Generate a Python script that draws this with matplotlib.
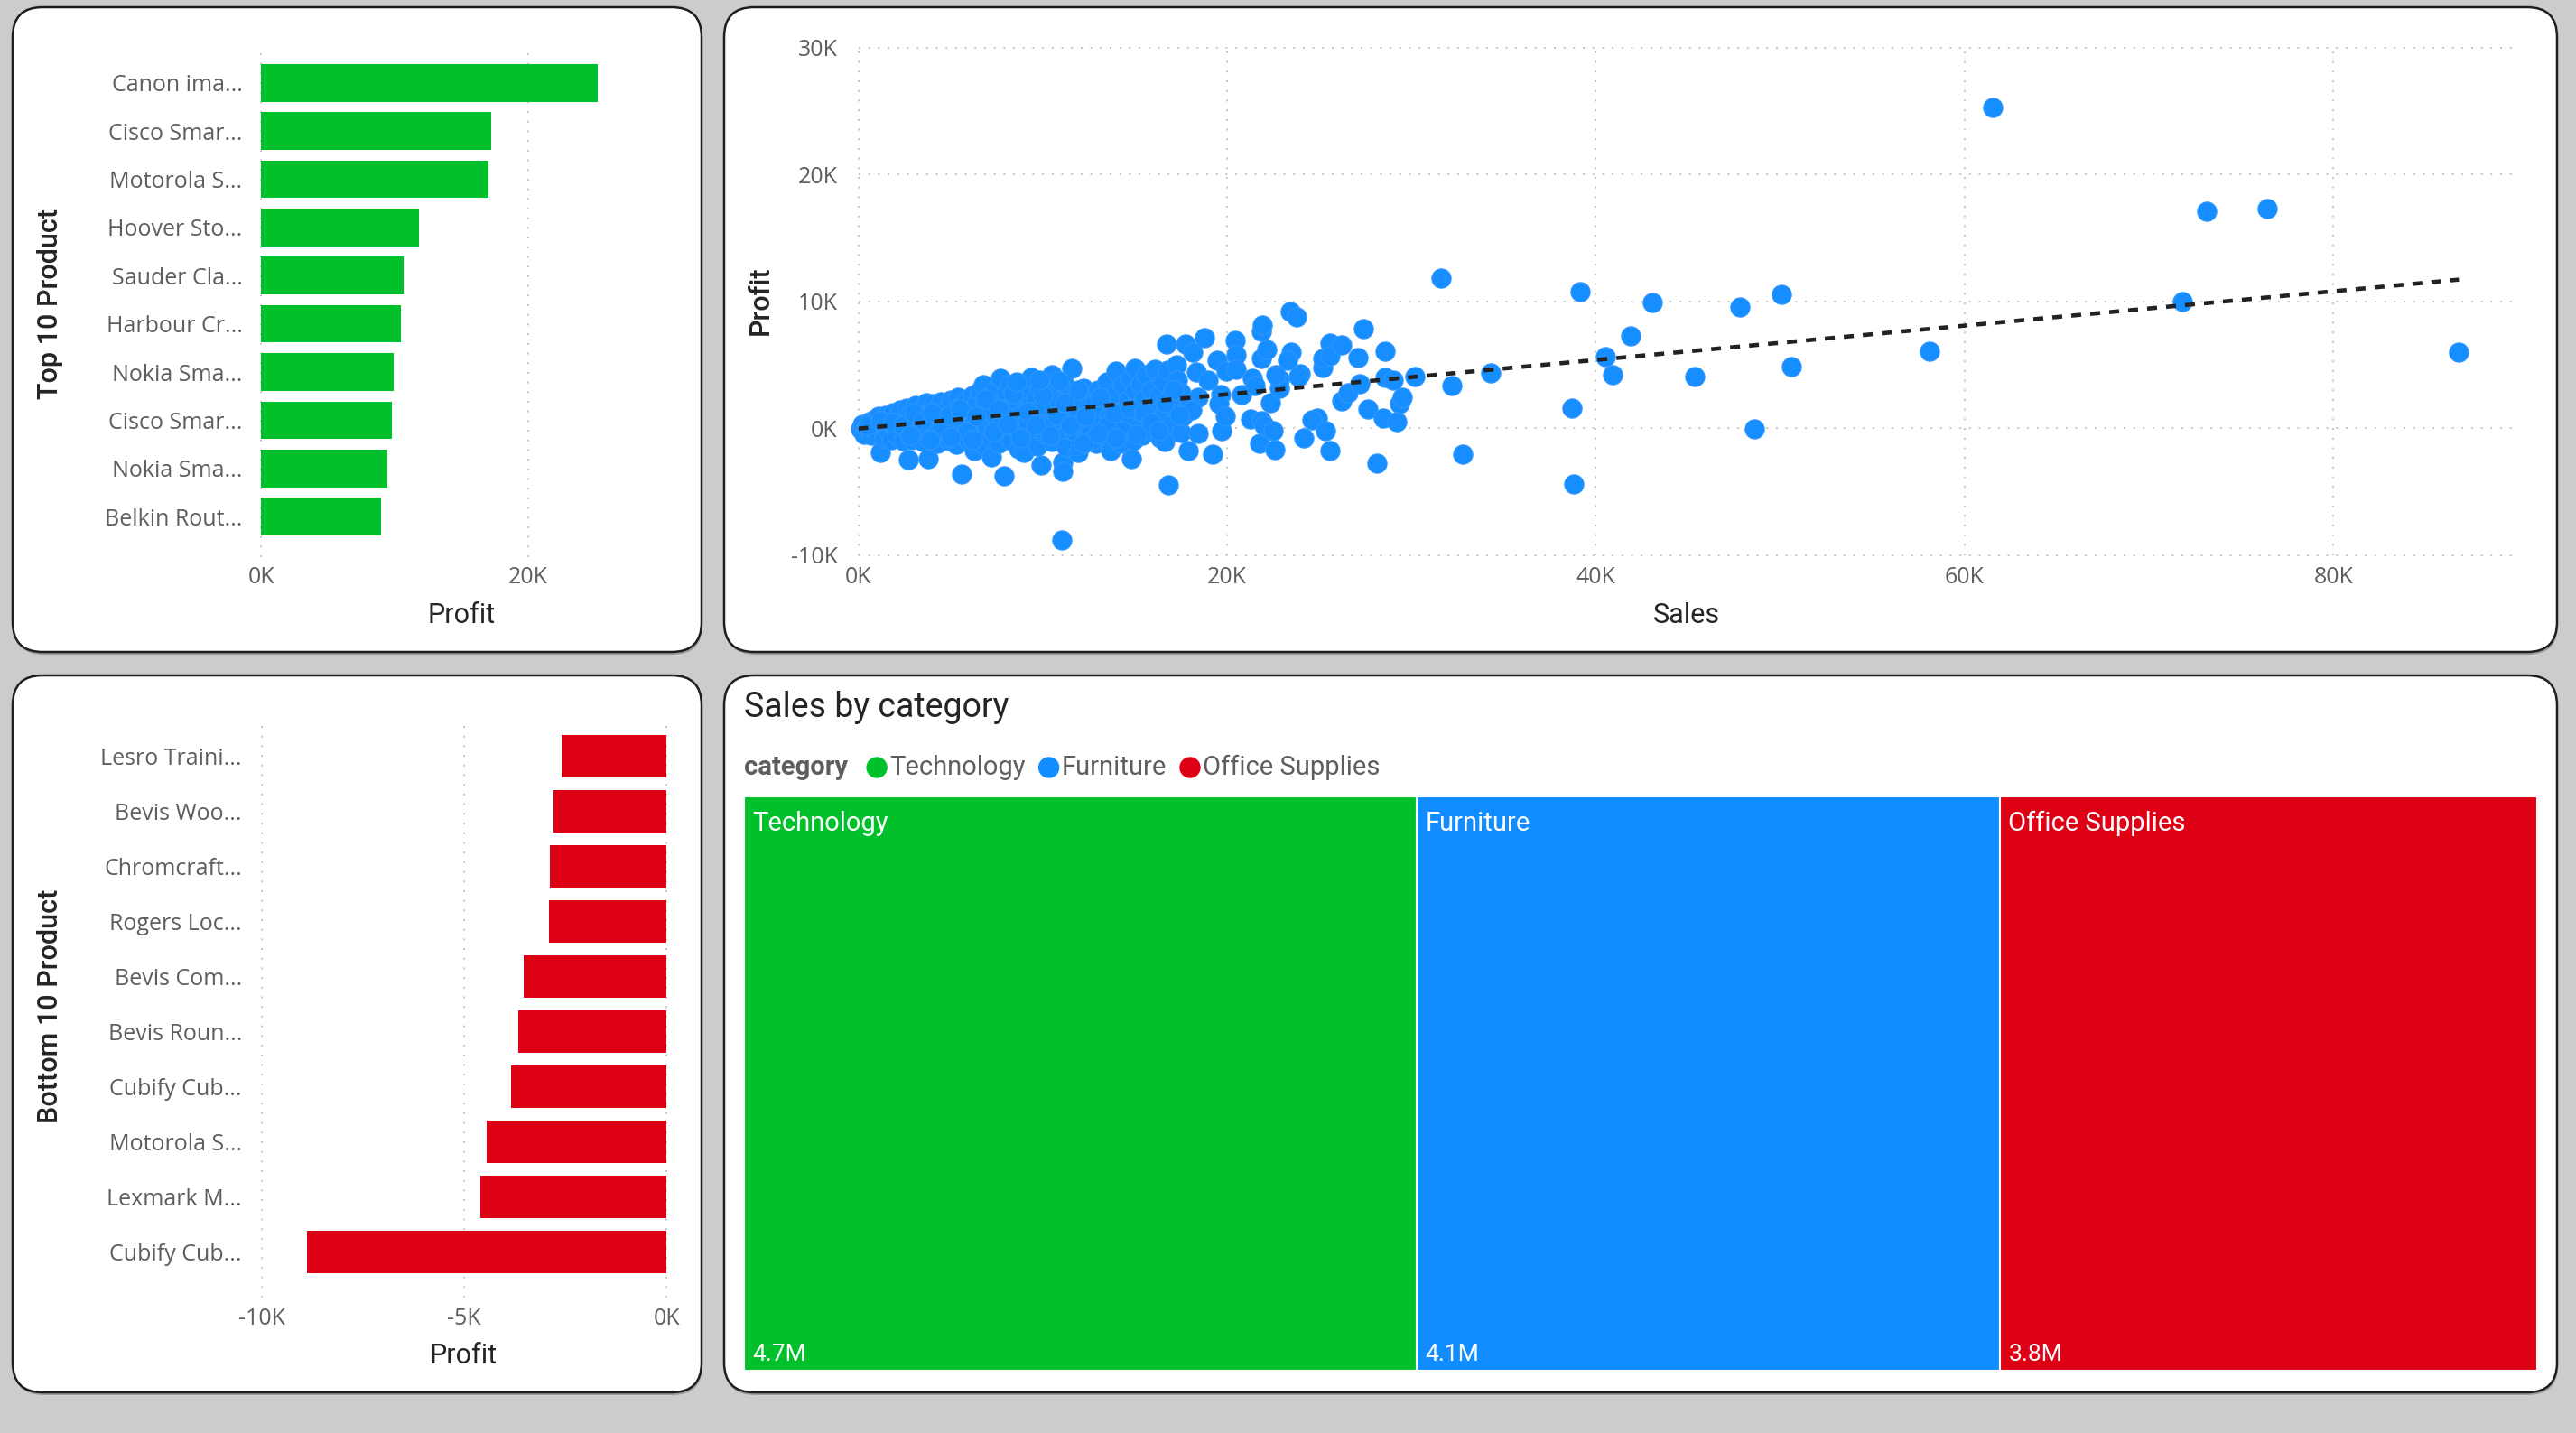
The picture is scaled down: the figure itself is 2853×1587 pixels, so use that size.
import numpy as np
import matplotlib.pyplot as plt
from matplotlib.patches import FancyBboxPatch, Circle

W, H = 2853, 1587

# ---- data (profit and sales in thousands unless noted) ----
top_products = ["Canon ima...", "Cisco Smar...", "Motorola S...", "Hoover Sto...", "Sauder Cla...",
                "Harbour Cr...", "Nokia Sma...", "Cisco Smar...", "Nokia Sma...", "Belkin Rout..."]
top_profit_k = [25.20, 17.24, 17.03, 11.81, 10.67, 10.43, 9.94, 9.79, 9.47, 8.96]

bottom_products = ["Lesro Traini...", "Bevis Woo...", "Chromcraft...", "Rogers Loc...", "Bevis Com...",
                   "Bevis Roun...", "Cubify Cub...", "Motorola S...", "Lexmark M...", "Cubify Cub..."]
bottom_profit_k = [-2.59, -2.80, -2.89, -2.91, -3.53, -3.66, -3.84, -4.45, -4.59, -8.88]

# (sales K, profit K) per product
scatter_points = [
    (0.1, -0.1), (0.2, 0.3), (0.3, -0.5), (0.4, 0.1), (0.6, 0.5), (0.7, -0.6), (0.8, 0.0), (0.9, 0.7),
    (1.0, -0.4), (1.1, 0.9), (1.2, -1.9), (1.3, 0.3), (1.4, -0.8), (1.5, 1.0), (1.6, -0.2), (1.7, 0.5),
    (1.8, -0.9), (1.9, 1.2), (2.0, 0.2), (2.1, -0.6), (2.2, 0.9), (2.3, 1.4), (2.4, -1.0), (2.5, 0.5),
    (2.6, 1.6), (2.7, -2.5), (2.7, -0.3), (2.8, 1.1), (2.9, -0.9), (3.0, 0.3), (3.1, 1.8), (3.2, -0.5),
    (3.3, 0.9), (3.4, 1.5), (3.5, -1.1), (3.6, 0.1), (3.7, 2.0), (3.8, -2.4), (3.8, 0.7), (3.9, 1.3),
    (4.0, -0.7), (4.1, 1.9), (4.2, 0.3), (4.3, -1.2), (4.4, 1.0), (4.5, 2.1), (4.6, -0.4), (4.7, 0.6),
    (4.8, 1.6), (4.9, -1.0), (5.0, 2.2), (5.1, 0.0), (5.2, 1.2), (5.3, -1.3), (5.4, 2.4), (5.5, 0.7),
    (5.6, -3.6), (5.6, 1.7), (5.7, -0.6), (5.8, 2.1), (5.9, 0.2), (6.0, -1.1), (6.1, 1.3), (6.2, 2.6),
    (6.3, -1.8), (6.3, 0.5), (6.4, 1.9), (6.5, -0.7), (6.6, 2.9), (6.7, 0.9), (6.8, 3.4), (6.8, -1.3),
    (6.9, 1.6), (7.0, 0.0), (7.1, 2.5), (7.2, -2.3), (7.2, -0.8), (7.3, 1.2), (7.4, 3.0), (7.5, 0.4),
    (7.6, -1.2), (7.7, 3.9), (7.7, 2.0), (7.8, 0.8), (7.9, -3.8), (7.9, -0.5), (8.0, 2.8), (8.1, 1.5),
    (8.2, 3.4), (8.3, -1.0), (8.4, 0.2), (8.5, 2.2), (8.6, 3.0), (8.7, -1.6), (8.8, 1.0), (8.9, -0.3),
    (9.0, 2.6), (9.0, -1.9), (9.1, 3.4), (9.2, 0.6), (9.3, 1.7), (9.4, 4.0), (9.5, -0.8), (9.6, 2.4),
    (9.7, -1.4), (9.8, 3.1), (9.9, -2.9), (9.9, 0.9), (10.0, 1.8), (10.1, -0.4), (10.2, 3.6), (10.3, 2.6),
    (10.4, 0.3), (10.5, 4.2), (10.5, -1.1), (10.6, 1.4), (10.7, 3.0), (10.8, -0.6), (10.9, 2.1), (11.0, 0.7),
    (11.05, -8.8), (11.1, -2.7), (11.1, -3.4), (11.2, 3.4), (11.3, -1.5), (11.4, 1.6), (11.5, 2.7), (11.6, 4.7),
    (11.7, -0.2), (11.8, 1.0), (11.9, -1.9), (12.0, 2.2), (12.1, 0.3), (12.2, 3.1), (12.3, -0.9), (12.4, 1.5),
    (12.5, 2.6), (12.6, -0.3), (12.7, 0.9), (12.8, 2.0), (12.9, -1.2), (13.0, 3.0), (13.1, 0.4), (13.2, 1.6),
    (13.3, -0.6), (13.4, 2.4), (13.5, 3.6), (13.6, 0.9), (13.7, -1.8), (13.8, 1.9), (13.9, -0.2), (14.0, 4.5),
    (14.0, 2.8), (14.1, 0.6), (14.2, -1.2), (14.3, 3.4), (14.4, 1.4), (14.5, -0.4), (14.6, 2.2), (14.7, 3.9),
    (14.8, -2.4), (14.8, 0.8), (14.9, -1.0), (15.0, 4.7), (15.0, 2.9), (15.1, 1.6), (15.2, 0.0), (15.3, 3.5),
    (15.4, -0.6), (15.5, 2.3), (15.6, 4.2), (15.7, 1.0), (15.8, -0.2), (15.9, 3.0), (16.0, 1.8), (16.1, 4.6),
    (16.2, 0.4), (16.3, 2.6), (16.4, -0.8), (16.5, 3.6), (16.6, 1.3), (16.62, -1.06), (16.7, 6.6), (16.8, -4.5),
    (16.78, 4.53), (16.9, 2.5), (17.0, 0.3), (17.2, 1.6), (17.27, 5.0), (17.3, 3.8), (17.5, -0.35), (17.5, 2.8),
    (17.6, 0.9), (17.75, 6.6), (17.9, -1.8), (18.0, 1.9), (18.12, 5.96), (18.33, 4.41), (18.41, 2.39), (18.09, 1.44),
    (18.45, -0.46), (18.77, 7.1), (18.98, 3.77), (19.2, -2.08), (19.47, 5.31), (19.64, 2.63), (19.56, 1.91),
    (19.72, -0.23), (19.88, 0.96), (19.96, 4.48), (20.45, 6.9), (20.5, 5.76), (20.49, 4.65), (20.78, 2.63),
    (21.27, 0.72), (21.35, 3.93), (21.5, 3.34), (21.84, 0.6), (21.76, -1.18), (22.0, 0.25), (22.5, -0.23),
    (22.58, -1.73), (22.33, 2.03), (21.84, 5.48), (22.17, 6.19), (21.84, 7.62), (21.9, 8.14), (23.44, 9.16),
    (23.77, 8.76), (23.47, 5.96), (23.3, 5.36), (23.96, 4.29), (23.88, 4.05), (22.82, 3.82), (22.82, 3.1),
    (22.66, 4.17), (24.16, -0.75), (24.9, 0.77), (24.6, 0.65), (25.35, -0.18), (25.6, -1.75), (25.19, 4.77),
    (25.2, 5.48), (25.56, 6.67), (25.6, 5.72), (26.2, 6.55), (26.2, 2.15), (26.54, 2.75), (27.2, 3.46),
    (27.1, 5.55), (27.4, 7.86), (27.65, 1.51), (28.14, -2.75), (28.47, 0.8), (28.58, 6.07), (28.58, 4.0),
    (29.0, 3.77), (29.2, 0.49), (29.35, 1.9), (29.5, 2.39), (30.16, 4.05), (31.6, 11.85), (32.2, 3.34),
    (32.8, -2.08), (34.3, 4.34), (38.7, 1.55), (38.8, -4.4), (39.14, 10.76), (40.53, 5.65), (40.93, 4.17),
    (41.87, 7.26), (43.06, 9.88), (45.34, 4.05), (47.8, 9.54), (48.6, -0.1), (50.04, 10.52), (50.6, 4.81),
    (58.1, 6.07), (61.5, 25.3), (71.8, 10.0), (73.1, 17.1), (76.4, 17.3), (86.8, 6.0),
    # more of the packed band below 17K
    (0.5, 0.2), (1.2, 0.6), (1.9, 0.4), (2.4, 0.2), (3.0, 1.2), (3.5, 0.6), (4.0, 1.2), (4.5, 0.0),
    (4.9, 1.0), (5.5, 1.5), (5.9, -0.3), (6.4, 0.9), (6.9, 2.3), (7.3, -0.3), (7.6, 1.5), (8.1, 0.3),
    (8.4, 2.7), (8.8, -0.8), (9.2, 1.3), (9.6, 0.2), (10.0, 2.6), (10.4, -0.6), (10.8, 1.0), (11.2, 2.0),
    (11.5, 0.2), (11.9, 3.0), (12.3, 0.9), (12.7, -0.9), (13.1, 2.4), (13.5, 0.2), (13.9, 1.2), (14.3, -0.2),
    (14.7, 1.6), (15.1, -0.5), (15.5, 1.2), (15.9, 0.4), (16.3, -0.2), (16.6, 2.0), (17.1, 3.0), (17.4, 1.0),
    (8.6, 3.6), (9.8, 3.8), (10.9, 3.7), (6.2, -0.9), (5.0, -0.7), (3.9, -0.9), (2.8, -0.6), (12.2, -1.2),
    (13.0, -0.4), (14.0, -0.8),
]
trend_intercept_k = -0.05
trend_slope = 0.1354

categories = ["Technology", "Furniture", "Office Supplies"]
category_sales = [4744557, 4110874, 3787070]

GREEN, BLUE, RED = "#00C12B", "#118DFF", "#DE0014"
TICK_C, TITLE_C, GRID_C = "#605E5C", "#252423", "#C8C6C4"

plt.rcParams["font.family"] = ["Open Sans", "DejaVu Sans"]
TITLE_FONT = ["Roboto", "DejaVu Sans"]

fig = plt.figure(figsize=(W / 100, H / 100), dpi=100)
fig.patch.set_facecolor("#CCCCCC")

# background axes in pixel coordinates for the cards
bg = fig.add_axes([0, 0, 1, 1], zorder=0)
bg.set_xlim(0, W)
bg.set_ylim(H, 0)
bg.axis("off")

cards = [(14, 8, 777, 722), (802, 8, 2832, 722), (14, 748, 777, 1542), (802, 748, 2832, 1542)]
for x0, y0, x1, y1 in cards:
    bg.add_patch(FancyBboxPatch((x0 + 1, y0 + 3), x1 - x0, y1 - y0, boxstyle="round,pad=0,rounding_size=33",
                                fc="#9A9A9A", ec="none"))
    bg.add_patch(FancyBboxPatch((x0, y0), x1 - x0, y1 - y0, boxstyle="round,pad=0,rounding_size=33",
                                fc="white", ec="#1E1E1E", lw=1.8))


def px_axes(x0, y0, x1, y1):
    ax = fig.add_axes([x0 / W, 1 - y1 / H, (x1 - x0) / W, (y1 - y0) / H], zorder=2)
    ax.patch.set_alpha(0)
    for s in ax.spines.values():
        s.set_visible(False)
    ax.tick_params(length=0, labelsize=18, labelcolor=TICK_C)
    return ax


def dotted_grid(ax, axis):
    ax.grid(axis=axis, color=GRID_C, lw=1.4, linestyle=(0, (1, 4.5)))
    ax.set_axisbelow(True)
    for ln in ax.get_xgridlines() + ax.get_ygridlines():
        ln.set_clip_on(False)


def k_fmt(v):
    return f"{v:.0f}K"


# ---- top 10 ----
ax1 = px_axes(289.3, 55, 733.2, 617)
y = np.arange(len(top_products))
ax1.barh(y, top_profit_k, height=0.78, color=GREEN)
ax1.set_xlim(0, 30)
ax1.set_ylim(9.84, -0.69)
ax1.set_yticks(y, top_products)
ax1.set_xticks([0, 20], [k_fmt(v) for v in [0, 20]])
ax1.tick_params(axis="y", pad=15)
ax1.tick_params(axis="x", pad=7)
dotted_grid(ax1, "x")
bg.text(511, 681, "Profit", ha="center", va="center", fontsize=22, color=TITLE_C, family=TITLE_FONT)
bg.text(56, 336, "Top 10 Product", ha="center", va="center", rotation=90, fontsize=22,
        color=TITLE_C, family=TITLE_FONT, weight="medium")

# ---- bottom 10 ----
ax3 = px_axes(285.3, 796.7, 742.8, 1437)
y = np.arange(len(bottom_products))
ax3.barh(y, bottom_profit_k, height=0.78, color=RED)
ax3.set_xlim(-10.1, 0.1)
ax3.set_ylim(9.83, -0.67)
ax3.set_yticks(y, bottom_products)
ax3.set_xticks([-10, -5, 0], [k_fmt(v) for v in [-10, -5, 0]])
ax3.tick_params(axis="y", pad=12.5)
ax3.tick_params(axis="x", pad=8)
dotted_grid(ax3, "x")
bg.text(513, 1502, "Profit", ha="center", va="center", fontsize=22, color=TITLE_C, family=TITLE_FONT)
bg.text(56, 1114, "Bottom 10 Product", ha="center", va="center", rotation=90, fontsize=22,
        color=TITLE_C, family=TITLE_FONT, weight="medium")

# ---- scatter ----
ax2 = px_axes(950.5, 52.6, 2784, 614.5)
sales = np.array([p[0] for p in scatter_points])
profit = np.array([p[1] for p in scatter_points])
ax2.scatter(sales, profit, s=235, color="#168EFF", edgecolors="#3097FF", linewidths=0.8, zorder=3, clip_on=False)
xs = np.array([0, sales.max()])
ax2.plot(xs, trend_intercept_k + trend_slope * xs, color="#222222", lw=3.3, linestyle=(0, (2.4, 2.2)), zorder=4)
ax2.set_xlim(0, 89.77)
ax2.set_ylim(-10, 30)
ax2.set_xticks([0, 20, 40, 60, 80], [k_fmt(v) for v in [0, 20, 40, 60, 80]])
ax2.set_yticks([-10, 0, 10, 20, 30], [k_fmt(v) for v in [-10, 0, 10, 20, 30]])
ax2.tick_params(axis="y", pad=16.5)
ax2.tick_params(axis="x", pad=9)
dotted_grid(ax2, "both")
bg.text(1868, 681, "Sales", ha="center", va="center", fontsize=22, color=TITLE_C, family=TITLE_FONT)
bg.text(842, 333, "Profit", ha="center", va="center", rotation=90, fontsize=22,
        color=TITLE_C, family=TITLE_FONT, weight="medium")

# ---- treemap ----
bg.text(824, 783, "Sales by category", ha="left", va="center", fontsize=27, color=TITLE_C, family=TITLE_FONT)
colors = [GREEN, BLUE, RED]
renderer = fig.canvas.get_renderer()
t = bg.text(824, 850, "category", ha="left", va="center", fontsize=21, color=TICK_C,
            family=TITLE_FONT, weight="bold")
x = t.get_window_extent(renderer).x1 + 21
for name, c in zip(categories, colors):
    bg.add_patch(Circle((x + 11, 850), 11, color=c))
    t = bg.text(x + 25, 850, name, ha="left", va="center", fontsize=21, color=TICK_C, family=TITLE_FONT)
    x = t.get_window_extent(renderer).x1 + 15

ax4 = px_axes(823.6, 881.7, 2809.7, 1518.3)
total = sum(category_sales)
lefts = np.concatenate([[0], np.cumsum(category_sales)[:-1]])
ax4.bar(lefts, [1] * len(categories), width=category_sales, align="edge", color=colors,
        edgecolor="white", linewidth=1.5)
ax4.set_xlim(0, total)
ax4.set_ylim(0, 1)
ax4.set_xticks([])
ax4.set_yticks([])
for left, name, v in zip(lefts, categories, category_sales):
    ax4.annotate(name, xy=(left, 1), xytext=(7, -21.5), textcoords="offset points", ha="left", va="center",
                 fontsize=21, color="white", family=TITLE_FONT)
    ax4.annotate(f"{v / 1e6:.1f}M", xy=(left, 0), xytext=(7, 13), textcoords="offset points", ha="left",
                 va="center", fontsize=19, color="white", family=TITLE_FONT)

fig.savefig("out.png", dpi=100, facecolor=fig.get_facecolor())
